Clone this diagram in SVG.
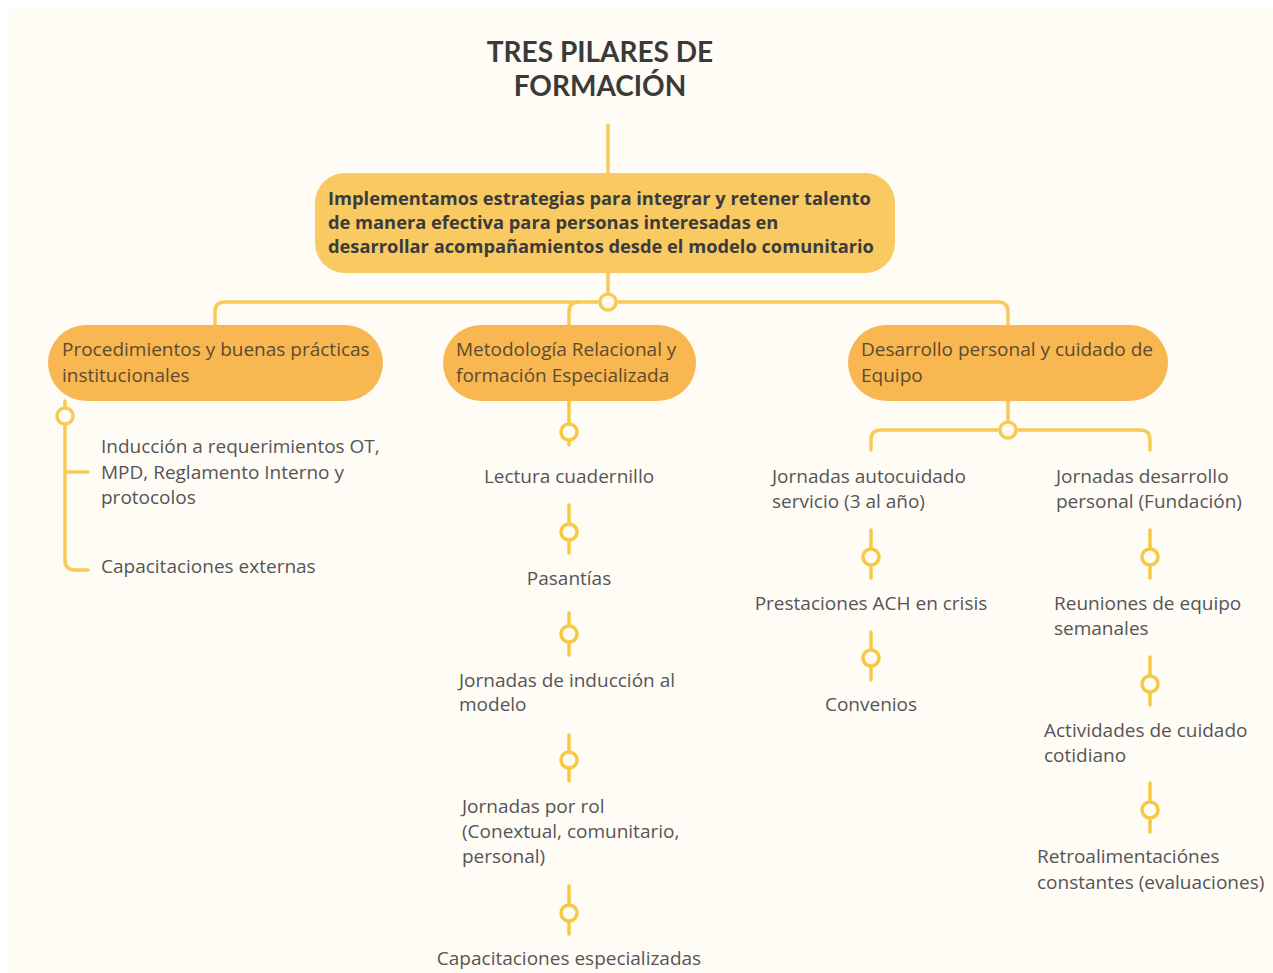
<svg xmlns="http://www.w3.org/2000/svg" width="1273" height="973" viewBox="0 0 1273 973">
<style>
.bg{fill:#fffcf5}
.title{font-family:Lato,"Liberation Sans",sans-serif;font-weight:bold;font-size:28px;fill:#3a3a3a;text-anchor:middle}
.main{fill:#f9ca62}
.mtxt{font-family:"Open Sans","Liberation Sans",sans-serif;font-weight:bold;font-size:18.3px;fill:#3b3b3b}
.pill{fill:#f8b751}
.ptxt{font-family:"Open Sans","Liberation Sans",sans-serif;font-size:19px;fill:#5c4b30}
.ctxt{font-family:"Open Sans","Liberation Sans",sans-serif;font-size:19px;fill:#555555}
.mid{text-anchor:middle}
.ln{fill:none;stroke:#f8ca5a;stroke-width:3.5;stroke-linecap:round;stroke-linejoin:round}
.cl{fill:none;stroke:#f6c945;stroke-width:3.5;stroke-linecap:round}
.dot{fill:#fffcf5;stroke:#f8ca5a;stroke-width:3.5}
.dot2{fill:#fffcf5;stroke:#f6c945;stroke-width:3.5}
</style>
<rect x="8" y="8" width="1265" height="965" class="bg"/>
<g id="connectors">
<line x1="608" y1="125" x2="608" y2="175" class="ln"/>
<line x1="608" y1="273" x2="608" y2="294" class="ln"/>
<path d="M215,325 V312 Q215,302 225,302 H998 Q1008,302 1008,312 V325" class="ln"/>
<path d="M569,325 V312 Q569,302 579,302" class="ln"/>
<circle cx="608" cy="302" r="8" class="dot"/>
<line x1="65" y1="401" x2="65" y2="408" class="ln"/>
<path d="M65,424 V560 Q65,570 75,570 H88" class="ln"/>
<path d="M65,472 H88" class="ln"/>
<circle cx="65" cy="416" r="8" class="dot"/>
<line x1="569" y1="401" x2="569" y2="445" class="cl"/>
<circle cx="569" cy="432" r="8" class="dot2"/>
<line x1="569" y1="505" x2="569" y2="553" class="cl"/>
<circle cx="569" cy="532" r="8" class="dot2"/>
<line x1="569" y1="613" x2="569" y2="655" class="cl"/>
<circle cx="569" cy="634" r="8" class="dot2"/>
<line x1="569" y1="735" x2="569" y2="781" class="cl"/>
<circle cx="569" cy="760" r="8" class="dot2"/>
<line x1="569" y1="886" x2="569" y2="934" class="cl"/>
<circle cx="569" cy="913" r="8" class="dot2"/>
<line x1="1008" y1="401" x2="1008" y2="422" class="ln"/>
<path d="M871,450 V440 Q871,430 881,430 H1140 Q1150,430 1150,440 V450" class="ln"/>
<circle cx="1008" cy="430" r="8" class="dot"/>
<line x1="871" y1="530" x2="871" y2="578" class="cl"/>
<circle cx="871" cy="557" r="8" class="dot2"/>
<line x1="871" y1="632" x2="871" y2="680" class="cl"/>
<circle cx="871" cy="658" r="8" class="dot2"/>
<line x1="1150" y1="530" x2="1150" y2="578" class="cl"/>
<circle cx="1150" cy="557" r="8" class="dot2"/>
<line x1="1150" y1="657" x2="1150" y2="705" class="cl"/>
<circle cx="1150" cy="684" r="8" class="dot2"/>
<line x1="1150" y1="783" x2="1150" y2="832" class="cl"/>
<circle cx="1150" cy="810" r="8" class="dot2"/>
</g>
<g id="title">
<text class="title" x="600" y="62">TRES PILARES DE</text>
<text class="title" x="600" y="96">FORMACIÓN</text>
</g>
<g id="main">
<rect x="315" y="173" width="580" height="100" rx="30" class="main"/>
<text class="mtxt" x="328" y="205">Implementamos estrategias para integrar y retener talento</text>
<text class="mtxt" x="328" y="229">de manera efectiva para personas interesadas en</text>
<text class="mtxt" x="328" y="253">desarrollar acompañamientos desde el modelo comunitario</text>
</g>
<g id="pillar1">
<rect x="48" y="325" width="335" height="76" rx="38" class="pill"/>
<text class="ptxt" x="62" y="356">Procedimientos y buenas prácticas</text>
<text class="ptxt" x="62" y="382">institucionales</text>
</g>
<g id="pillar2">
<rect x="443" y="325" width="253" height="76" rx="38" class="pill"/>
<text class="ptxt" x="456" y="356">Metodología Relacional y</text>
<text class="ptxt" x="456" y="382">formación Especializada</text>
</g>
<g id="pillar3">
<rect x="848" y="325" width="320" height="76" rx="38" class="pill"/>
<text class="ptxt" x="861" y="356">Desarrollo personal y cuidado de</text>
<text class="ptxt" x="861" y="382">Equipo</text>
</g>
<g id="p1-induccion">
<text class="ctxt" x="101" y="453">Inducción a  requerimientos OT,</text>
<text class="ctxt" x="101" y="479">MPD, Reglamento Interno y</text>
<text class="ctxt" x="101" y="504">protocolos</text>
</g>
<g id="p1-capacitaciones">
<text class="ctxt" x="101" y="573">Capacitaciones externas</text>
</g>
<g id="p2-lectura"><text class="ctxt mid" x="569" y="483">Lectura cuadernillo</text></g>
<g id="p2-pasantias"><text class="ctxt mid" x="569" y="585">Pasantías</text></g>
<g id="p2-jornadas-induccion">
<text class="ctxt" x="459" y="687">Jornadas de inducción al</text>
<text class="ctxt" x="459" y="711">modelo</text>
</g>
<g id="p2-jornadas-rol">
<text class="ctxt" x="462" y="813">Jornadas por rol</text>
<text class="ctxt" x="462" y="838">(Conextual, comunitario,</text>
<text class="ctxt" x="462" y="863">personal)</text>
</g>
<g id="p2-capacitaciones"><text class="ctxt mid" x="569" y="965">Capacitaciones especializadas</text></g>
<g id="p3-autocuidado">
<text class="ctxt" x="772" y="483">Jornadas autocuidado</text>
<text class="ctxt" x="772" y="508">servicio (3 al año)</text>
</g>
<g id="p3-prestaciones"><text class="ctxt mid" x="871" y="610">Prestaciones ACH en crisis</text></g>
<g id="p3-convenios"><text class="ctxt mid" x="871" y="711">Convenios</text></g>
<g id="p3-desarrollo">
<text class="ctxt" x="1056" y="483">Jornadas desarrollo</text>
<text class="ctxt" x="1056" y="508">personal (Fundación)</text>
</g>
<g id="p3-reuniones">
<text class="ctxt" x="1054" y="610">Reuniones de equipo</text>
<text class="ctxt" x="1054" y="635">semanales</text>
</g>
<g id="p3-actividades">
<text class="ctxt" x="1044" y="737">Actividades de cuidado</text>
<text class="ctxt" x="1044" y="762">cotidiano</text>
</g>
<g id="p3-retro">
<text class="ctxt" x="1037" y="863">Retroalimentaciónes</text>
<text class="ctxt" x="1037" y="889">constantes (evaluaciones)</text>
</g>
</svg>
